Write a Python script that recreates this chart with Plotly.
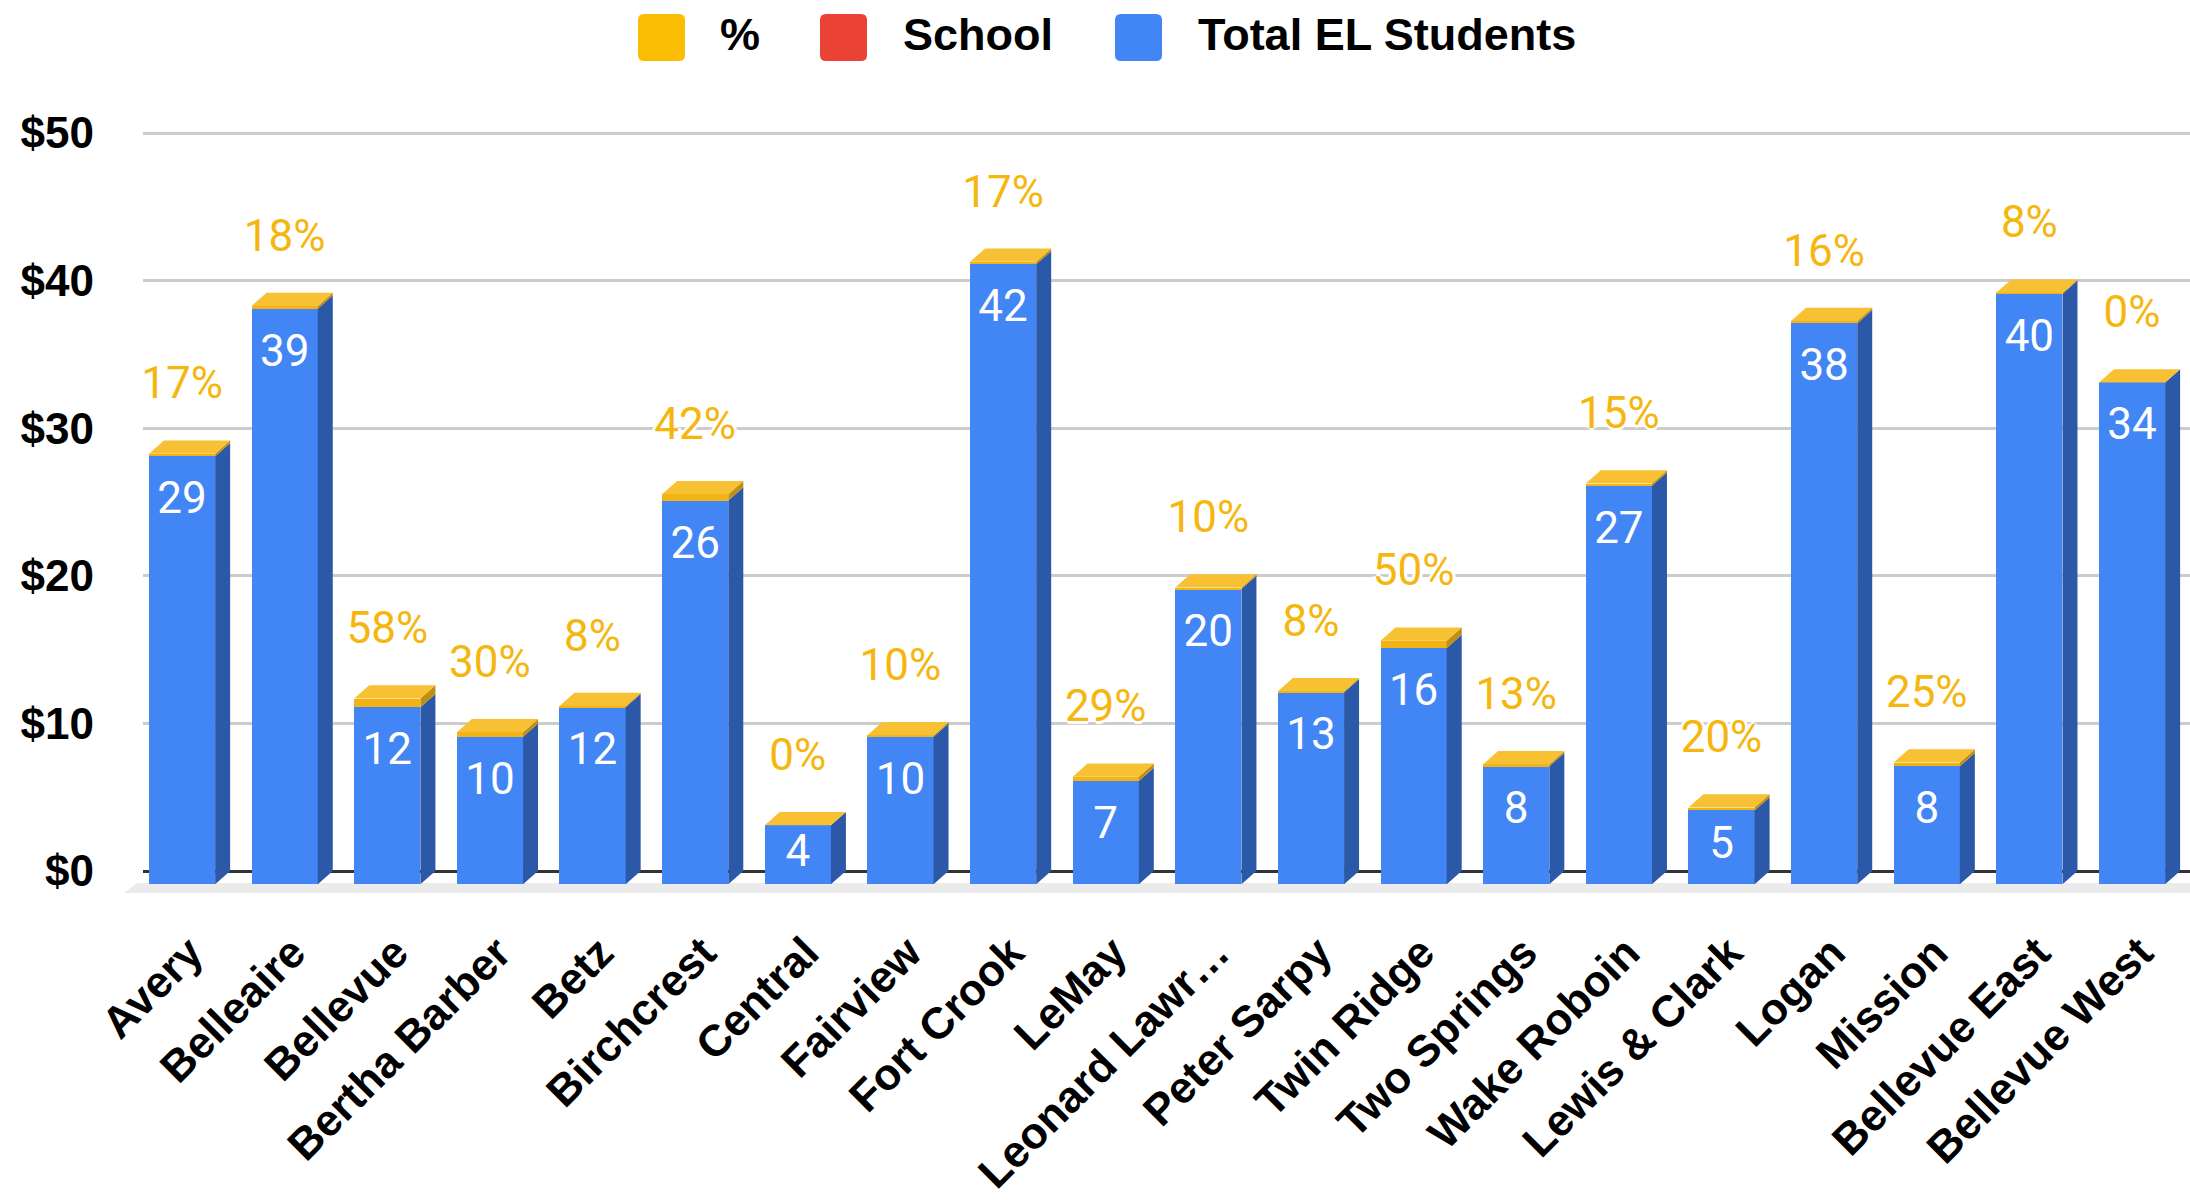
import plotly.graph_objects as go

# ---------------- data ----------------
schools = ["Avery", "Belleaire", "Bellevue", "Bertha Barber", "Betz", "Birchcrest",
           "Central", "Fairview", "Fort Crook", "LeMay", "Leonard Lawr…", "Peter Sarpy",
           "Twin Ridge", "Two Springs", "Wake Roboin", "Lewis & Clark", "Logan",
           "Mission", "Bellevue East", "Bellevue West"]
total_el = [29, 39, 12, 10, 12, 26, 4, 10, 42, 7, 20, 13, 16, 8, 27, 5, 38, 8, 40, 34]
pct = [0.17, 0.18, 0.58, 0.30, 0.08, 0.42, 0.00, 0.10, 0.17, 0.29,
       0.10, 0.08, 0.50, 0.13, 0.15, 0.20, 0.16, 0.25, 0.08, 0.00]
school_vals = [0] * 20
series_names = ["%", "School", "Total EL Students"]
series_colors = ["#FBBC04", "#EA4335", "#4285F4"]
y_ticks = [0, 10, 20, 30, 40, 50]
y_tick_text = [f"${v}" for v in y_ticks]

# ---------------- geometry / style ----------------
W, H = 2190, 1200
ML, MR, MT, MB = 143, 0, 126, 301
PW, PH = W - ML - MR, H - MT - MB
PX_PER_Y = 14.76
PX_PER_X = 102.63
Y0 = -(H - MB - 871) / PX_PER_Y
Y1 = Y0 + PH / PX_PER_Y
X0 = (ML - 190) / PX_PER_X
X1 = X0 + PW / PX_PER_X

DEPTH_Y = 0.9                 # 3D depth in y units
DEPTH_X = 15 / PX_PER_X       # 3D depth in x units
FRONT_OFF = -0.40
FRONT_W = 0.645

BLUE = "#4285F4"
BLUE_SIDE = "#2C58A8"
YEL_FRONT = "#F2B313"
YEL_TOP = "#F8C033"
YEL_SIDE = "#C08E10"
LABEL_YEL = "#F5B70F"

ARIAL = "Liberation Sans, Arial, sans-serif"
ROBOTO = "Roboto, sans-serif"

n = len(schools)
xs = list(range(n))

fig = go.Figure()

# front faces (blue, red(empty), yellow), stacked from base -DEPTH_Y
fig.add_trace(go.Bar(x=xs, y=total_el, base=[-DEPTH_Y] * n, width=FRONT_W, offset=FRONT_OFF,
                     marker=dict(color=BLUE, line=dict(width=0)), name=series_names[2],
                     showlegend=False, hoverinfo="skip"))
fig.add_trace(go.Bar(x=xs, y=school_vals, base=[v - DEPTH_Y for v in total_el], width=FRONT_W,
                     offset=FRONT_OFF, marker=dict(color=series_colors[1], line=dict(width=0)),
                     name=series_names[1], showlegend=False, hoverinfo="skip"))
fig.add_trace(go.Bar(x=xs, y=pct, base=[v + s - DEPTH_Y for v, s in zip(total_el, school_vals)],
                     width=FRONT_W, offset=FRONT_OFF,
                     marker=dict(color=YEL_FRONT, line=dict(width=0)), name=series_names[0],
                     showlegend=False, hoverinfo="skip"))

# side and top faces built from the same values
side_bx, side_by, side_yx, side_yy, top_x, top_y = [], [], [], [], [], []
for i, v, s, p in zip(xs, total_el, school_vals, pct):
    xl = i + FRONT_OFF
    xr = xl + FRONT_W
    top = v + s + p
    side_bx += [xr, xr + DEPTH_X, xr + DEPTH_X, xr, xr, None]
    side_by += [-DEPTH_Y, 0, v, v - DEPTH_Y, -DEPTH_Y, None]
    side_yx += [xr, xr + DEPTH_X, xr + DEPTH_X, xr, xr, None]
    side_yy += [v + s - DEPTH_Y, v + s, top, top - DEPTH_Y, v + s - DEPTH_Y, None]
    top_x += [xl, xr, xr + DEPTH_X, xl + DEPTH_X, xl, None]
    top_y += [top - DEPTH_Y, top - DEPTH_Y, top, top, top - DEPTH_Y, None]

for px_, py_, col in [(side_bx, side_by, BLUE_SIDE), (side_yx, side_yy, YEL_SIDE),
                      (top_x, top_y, YEL_TOP)]:
    fig.add_trace(go.Scatter(x=px_, y=py_, mode="lines", fill="toself", fillcolor=col,
                             line=dict(width=0, color=col), showlegend=False,
                             hoverinfo="skip", connectgaps=False))

# value labels
lab_x = [i + FRONT_OFF + FRONT_W / 2 for i in xs]
in_y = [max(v - DEPTH_Y - 46 / PX_PER_Y, v / 2 - DEPTH_Y) for v in total_el]
fig.add_trace(go.Scatter(x=lab_x, y=in_y, mode="text", text=[str(v) for v in total_el],
                         textposition="middle center", cliponaxis=False,
                         textfont=dict(family=ROBOTO, size=44, color="white"),
                         showlegend=False, hoverinfo="skip"))
pct_y = [v + s + p + 53 / PX_PER_Y for v, s, p in zip(total_el, school_vals, pct)]
fig.add_trace(go.Scatter(x=lab_x, y=pct_y, mode="text",
                         text=[f"{round(p * 100)}%" for p in pct],
                         textposition="middle center", cliponaxis=False,
                         textfont=dict(family=ROBOTO, size=44, color=LABEL_YEL,
                                       shadow="3px 0 1px #fff, -3px 0 1px #fff, 0 3px 1px #fff, 0 -3px 1px #fff"),
                         showlegend=False, hoverinfo="skip"))

# floor strip in front of the baseline
def px2paper_x(px):
    return (px - ML) / PW


def px2paper_y(py):
    return (H - MB - py) / PH


f_top, f_bot = -12 / PX_PER_Y, -22 / PX_PER_Y
floor_path = (f"M {px2paper_x(137)} {f_top} L 1 {f_top} L 1 {f_bot} "
              f"L {px2paper_x(124)} {f_bot} Z")
shapes = [dict(type="path", xref="paper", yref="y", path=floor_path,
               fillcolor="#ebebeb", line=dict(width=0), layer="below")]

# custom legend (large rounded swatches)
annotations = []
sw_left = [638, 820, 1115]
txt_left = [718, 901, 1196]
sw_size, sw_top, r = 47, 14, 6
for name, col, sx, tx in zip(series_names, series_colors, sw_left, txt_left):
    x0, x1 = sx, sx + sw_size
    y0, y1 = sw_top, sw_top + sw_size
    X = px2paper_x
    Y = px2paper_y
    path = (f"M {X(x0 + r)} {Y(y0)} L {X(x1 - r)} {Y(y0)} Q {X(x1)} {Y(y0)} {X(x1)} {Y(y0 + r)} "
            f"L {X(x1)} {Y(y1 - r)} Q {X(x1)} {Y(y1)} {X(x1 - r)} {Y(y1)} "
            f"L {X(x0 + r)} {Y(y1)} Q {X(x0)} {Y(y1)} {X(x0)} {Y(y1 - r)} "
            f"L {X(x0)} {Y(y0 + r)} Q {X(x0)} {Y(y0)} {X(x0 + r)} {Y(y0)} Z")
    shapes.append(dict(type="path", xref="paper", yref="paper", path=path,
                       fillcolor=col, line=dict(width=0)))
    annotations.append(dict(x=X(tx), y=Y(sw_top + sw_size / 2 - 3), xref="paper", yref="paper",
                            text=name, showarrow=False, xanchor="left", yanchor="middle",
                            font=dict(family=ARIAL, size=45, color="#000", weight="bold")))

fig.update_layout(
    width=W, height=H,
    margin=dict(l=ML, r=MR, t=MT, b=MB, pad=0),
    paper_bgcolor="white", plot_bgcolor="white",
    barmode="overlay", bargap=0,
    showlegend=False,
    shapes=shapes, annotations=annotations,
    xaxis=dict(range=[X0, X1], tickvals=xs, ticktext=schools, tickangle=-45,
               showgrid=False, zeroline=False, showline=False, ticks="",
               ticklabelstandoff=18,
               tickfont=dict(family=ARIAL, size=44, color="#000", weight="bold")),
    yaxis=dict(range=[Y0, Y1], tickvals=y_ticks, ticktext=y_tick_text,
               showgrid=True, gridcolor="#cccccc", gridwidth=3,
               zeroline=True, zerolinecolor="#333333", zerolinewidth=3,
               showline=False, ticks="", ticklabelstandoff=48,
               tickfont=dict(family=ARIAL, size=44, color="#000", weight="bold")),
)

fig.write_html("out.html")
